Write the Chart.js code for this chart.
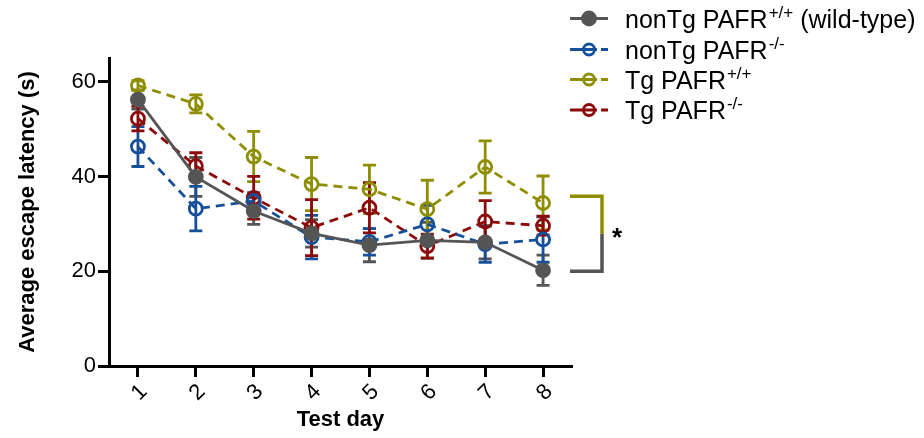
<!DOCTYPE html>
<html>
<head>
<meta charset="utf-8">
<script src="https://cdn.jsdelivr.net/npm/chart.js@4.4.1/dist/chart.umd.min.js"></script>
<style>
  html, body { margin: 0; padding: 0; background: #fff; }
  #wrap { width: 924px; height: 438px; }
</style>
</head>
<body>
<div id="wrap"><canvas id="latencyChart" width="924" height="438"></canvas></div>
<script>
// test days and y ticks
const days = [1, 2, 3, 4, 5, 6, 7, 8];
const yTicks = [0, 20, 40, 60];

// mean escape latency (s) and SEM per group
const wtMean   = [56.2, 39.9, 32.7, 28.0, 25.5, 26.5, 26.1, 20.2];
const wtSem    = [2.0, 4.1, 2.8, 2.9, 3.5, 3.8, 3.5, 3.2];
const koMean   = [46.3, 33.2, 34.8, 27.2, 26.2, 29.9, 25.7, 26.7];
const koSem    = [4.2, 4.7, 1.8, 4.6, 2.8, 4.0, 3.8, 4.8];
const tgMean   = [59.2, 55.3, 44.2, 38.4, 37.3, 33.1, 42.0, 34.4];
const tgSem    = [1.0, 1.9, 5.3, 5.6, 5.1, 6.1, 5.5, 5.7];
const tgKoMean = [52.2, 42.2, 35.5, 29.2, 33.4, 25.3, 30.5, 29.6];
const tgKoSem  = [2.6, 2.8, 4.5, 5.9, 5.3, 2.5, 4.4, 2.0];

// legend text pieces
const groupNames = ['nonTg PAFR', 'nonTg PAFR', 'Tg PAFR', 'Tg PAFR'];
const genotypes  = ['+/+', '-/-', '+/+', '-/-'];
const suffixes   = [' (wild-type)', '', '', ''];

// significance bracket (Tg PAFR+/+ vs wild-type)
const bracketTop = 35.8;
const bracketBottom = 20.0;

const GRAY = '#555555';
const BLUE = '#17509a';
const OLIVE = '#8e8e00';
const RED = '#8c0a0a';

Chart.defaults.font.family = "'Liberation Sans', Arial, sans-serif";
Chart.defaults.color = '#000';

function pts(means) {
    return days.map((d, i) => ({ x: d, y: means[i] }));
}

function group(mean, sem, color, solid) {
    return {
        data: pts(mean),
        sem: sem,
        borderColor: color,
        borderWidth: 2.8,
        borderDash: solid ? [] : [9, 6],
        pointRadius: 6.5,
        pointHoverRadius: 6.5,
        pointBorderWidth: 2.8,
        pointBorderColor: color,
        pointBackgroundColor: solid ? color : 'rgba(0,0,0,0)',
        tension: 0,
        clip: false
    };
}

// vertical SEM bars with caps
const errorBars = {
    id: 'errorBars',
    beforeDatasetsDraw(chart) {
        const ctx = chart.ctx;
        const y = chart.scales.y;
        chart.data.datasets.forEach((ds, di) => {
            const meta = chart.getDatasetMeta(di);
            ctx.save();
            ctx.strokeStyle = ds.borderColor;
            ctx.lineWidth = 2.8;
            meta.data.forEach((pt, i) => {
                const v = ds.data[i].y, e = ds.sem[i];
                const top = y.getPixelForValue(v + e);
                const bot = y.getPixelForValue(v - e);
                ctx.beginPath();
                ctx.moveTo(pt.x, top); ctx.lineTo(pt.x, bot);
                ctx.moveTo(pt.x - 6.5, top); ctx.lineTo(pt.x + 6.5, top);
                ctx.moveTo(pt.x - 6.5, bot); ctx.lineTo(pt.x + 6.5, bot);
                ctx.stroke();
            });
            ctx.restore();
        });
    }
};

// bracket + asterisk right of the plot
const bracket = {
    id: 'bracket',
    afterDraw(chart) {
        const ctx = chart.ctx;
        const y = chart.scales.y;
        const x0 = chart.chartArea.right - 2, x1 = chart.chartArea.right + 30;
        const yt = y.getPixelForValue(bracketTop);
        const yb = y.getPixelForValue(bracketBottom);
        const ym = (yt + yb) / 2;
        ctx.save();
        ctx.lineWidth = 3.5;
        ctx.lineCap = 'butt';
        ctx.strokeStyle = OLIVE;
        ctx.beginPath();
        ctx.moveTo(x0, yt); ctx.lineTo(x1, yt); ctx.lineTo(x1, ym);
        ctx.stroke();
        ctx.strokeStyle = GRAY;
        ctx.beginPath();
        ctx.moveTo(x1, ym); ctx.lineTo(x1, yb); ctx.lineTo(x0, yb);
        ctx.stroke();
        ctx.fillStyle = '#000';
        ctx.font = "bold 26px 'Liberation Sans', Arial, sans-serif";
        ctx.textAlign = 'center';
        ctx.textBaseline = 'middle';
        ctx.fillText('*', x1 + 15, ym + 5);
        ctx.restore();
    }
};

// legend with superscript genotypes
const legendRows = {
    id: 'legendRows',
    afterDraw(chart) {
        const ctx = chart.ctx;
        const rowY = [18.5, 49.5, 79.5, 110];
        ctx.save();
        chart.data.datasets.forEach((ds, i) => {
            const cy = rowY[i];
            const dashed = ds.borderDash.length > 0;
            ctx.strokeStyle = ds.borderColor;
            ctx.lineWidth = 2.8;
            ctx.setLineDash(dashed ? [27, 4, 8] : []);
            ctx.beginPath();
            ctx.moveTo(570, cy); ctx.lineTo(608, cy);
            ctx.stroke();
            ctx.setLineDash([]);
            ctx.beginPath();
            ctx.arc(589, cy, dashed ? 5.5 : 6.5, 0, Math.PI * 2);
            ctx.fillStyle = ds.pointBackgroundColor;
            ctx.fill();
            ctx.stroke();

            const base = cy + 9;
            let x = 625;
            ctx.fillStyle = '#000';
            ctx.textBaseline = 'alphabetic';
            ctx.textAlign = 'left';
            ctx.font = "25px 'Liberation Sans', Arial, sans-serif";
            ctx.fillText(groupNames[i], x, base);
            x += ctx.measureText(groupNames[i]).width + 1;
            ctx.font = "17px 'Liberation Sans', Arial, sans-serif";
            ctx.fillText(genotypes[i], x, base - 10);
            x += ctx.measureText(genotypes[i]).width;
            ctx.font = "25px 'Liberation Sans', Arial, sans-serif";
            ctx.fillText(suffixes[i], x, base);
        });
        ctx.restore();
    }
};

new Chart(document.getElementById('latencyChart'), {
    type: 'line',
    data: {
        datasets: [
            group(wtMean, wtSem, GRAY, true),
            group(koMean, koSem, BLUE, false),
            group(tgMean, tgSem, OLIVE, false),
            group(tgKoMean, tgKoSem, RED, false)
        ]
    },
    options: {
        responsive: false,
        animation: false,
        devicePixelRatio: 1,
        layout: { padding: { top: 58, right: 352, left: 0, bottom: 0 } },
        plugins: { legend: { display: false }, tooltip: { enabled: false } },
        scales: {
            x: {
                type: 'linear',
                min: 0.5,
                max: 8.5,
                afterBuildTicks: s => { s.ticks = days.map(v => ({ value: v })); },
                afterFit: s => { s.height = 72; },
                ticks: {
                    font: { size: 22 },
                    minRotation: 45,
                    maxRotation: 45,
                    padding: 2,
                    labelOffset: 6
                },
                grid: { drawOnChartArea: false, tickLength: 11, tickWidth: 3, tickColor: '#000' },
                border: { color: '#000', width: 3 },
                title: {
                    display: true,
                    text: 'Test day',
                    font: { size: 22, weight: 'bold' },
                    padding: { top: 0, bottom: 5 }
                }
            },
            y: {
                min: 0,
                max: 65,
                afterBuildTicks: s => { s.ticks = yTicks.map(v => ({ value: v })); },
                afterFit: s => { s.width = 109; },
                ticks: { font: { size: 22 }, padding: 2 },
                grid: { drawOnChartArea: false, tickLength: 11, tickWidth: 3, tickColor: '#000' },
                border: { color: '#000', width: 3 },
                title: {
                    display: true,
                    text: 'Average escape latency (s)',
                    font: { size: 22, weight: 'bold' },
                    padding: { top: 15, bottom: 0 }
                }
            }
        }
    },
    plugins: [errorBars, bracket, legendRows]
});
</script>
</body>
</html>
